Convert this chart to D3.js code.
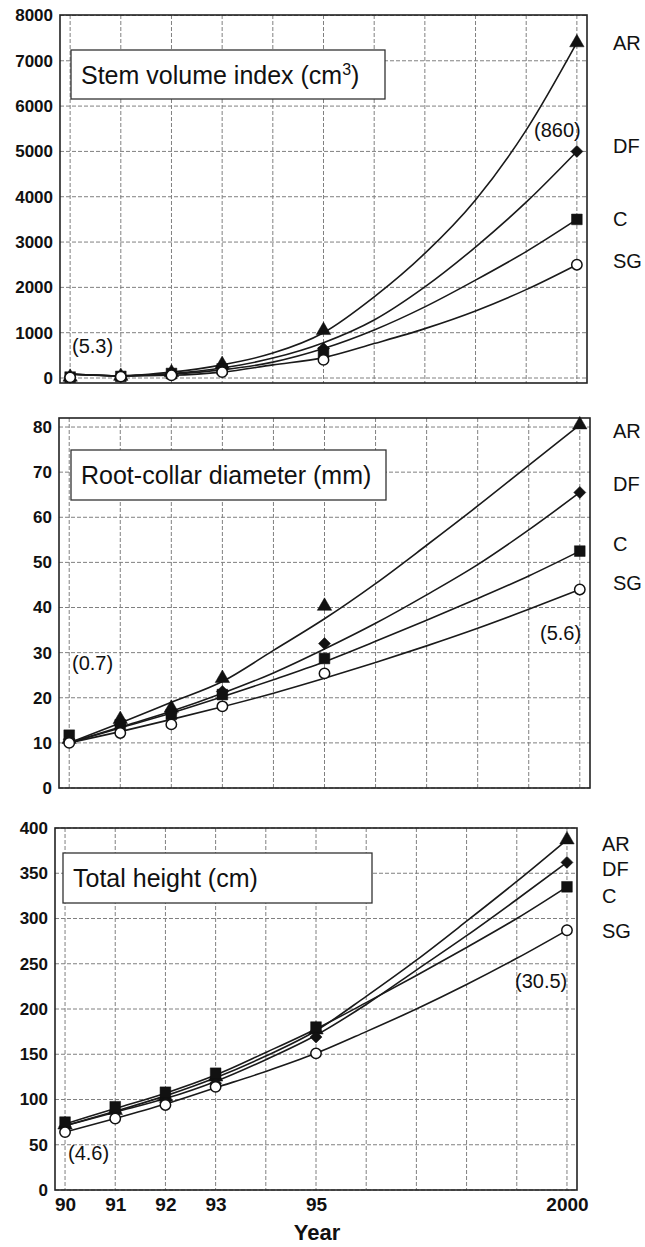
<!DOCTYPE html>
<html>
<head>
<meta charset="utf-8">
<script src="https://cdn.jsdelivr.net/npm/d3@7"></script>
<style>
  body { margin: 0; background: #fff; }
  text { font-family: "Liberation Sans", Arial, sans-serif; fill: #111; }
</style>
</head>
<body>
<script>
// years on x axis (2000 stored as 100 so the scale stays linear)
var years = [90, 91, 92, 93, 95, 100];
var fitYears = [90, 91, 92, 93, 94, 95, 96, 97, 98, 99, 100];
var gridYears = fitYears;
var xTickValues = [90, 91, 92, 93, 95, 100];
var xTickLabels = ["90", "91", "92", "93", "95", "2000"];
var seriesNames = ["AR", "DF", "C", "SG"];

// stem volume index (cm3): measured points and fitted curve, per series AR, DF, C, SG
var volumeTicks = [0, 1000, 2000, 3000, 4000, 5000, 6000, 7000, 8000];
var volumeObs = [
    [20, 40, 120, 300, 1050, 7400],
    [20, 35, 100, 220, 650, 5000],
    [20, 35, 100, 200, 560, 3500],
    [15, 30, 60, 130, 400, 2500]
];
var volumeFit = [
    [90, 50, 130, 290, 550, 1000, 1790, 2750, 3930, 5470, 7400],
    [90, 50, 100, 220, 440, 780, 1280, 2010, 2890, 3880, 5000],
    [90, 50, 90, 180, 350, 650, 1060, 1570, 2160, 2790, 3500],
    [90, 45, 60, 130, 290, 450, 760, 1090, 1480, 1950, 2500]
];

// root-collar diameter (mm)
var diameterTicks = [0, 10, 20, 30, 40, 50, 60, 70, 80];
var diameterObs = [
    [10.8, 15.2, 17.7, 24.3, 40.3, 80.5],
    [10.8, 14.0, 16.6, 21.4, 32.0, 65.5],
    [11.7, 14.0, 16.3, 20.7, 28.7, 52.5],
    [10.0, 12.2, 14.1, 18.1, 25.4, 44.0]
];
var diameterFit = [
    [10, 14.4, 19.0, 23.6, 30.5, 37.5, 45.3, 53.8, 62.5, 71.5, 80.5],
    [10, 13.5, 17.0, 21.0, 25.5, 30.8, 36.5, 42.8, 49.5, 57.2, 65.5],
    [10, 13.3, 16.6, 20.2, 24.0, 28.0, 32.5, 37.2, 42.0, 47.0, 52.5],
    [10, 12.5, 15.2, 18.0, 21.0, 24.3, 27.8, 31.5, 35.4, 39.6, 44.0]
];

// total height (cm)
var heightTicks = [0, 50, 100, 150, 200, 250, 300, 350, 400];
var heightObs = [
    [72, 88, 103, 125, 177, 387],
    [70, 86, 97, 118, 169, 362],
    [75, 92, 108, 129, 180, 335],
    [64, 79, 94, 114, 151, 287]
];
var heightFit = [
    [71, 87, 104, 124, 148, 176, 214, 254, 297, 341, 387],
    [71, 86, 101, 120, 144, 171, 205, 243, 281, 321, 362],
    [73, 90, 107, 127, 152, 178, 207, 237, 268, 300, 335],
    [64, 79, 95, 113, 131, 151, 175, 200, 227, 256, 287]
];

var panels = [
    {
        title: "Stem volume index (cm", sup: "3", titleEnd: ")",
        obs: volumeObs, fit: volumeFit, ticks: volumeTicks, yDomain: [-110, 8010],
        left: 60, right: 587, top: 15, bottom: 383,
        box: [71, 50, 314, 49],
        labelX: 613, labelY: [50, 153, 226, 268],
        notes: [{t: "(5.3)", x: 72, y: 353}, {t: "(860)", x: 534, y: 137}],
        xLabels: false
    },
    {
        title: "Root-collar diameter (mm)",
        obs: diameterObs, fit: diameterFit, ticks: diameterTicks, yDomain: [0, 82],
        left: 59, right: 590, top: 418, bottom: 788,
        box: [71, 450, 315, 50],
        labelX: 613, labelY: [438, 491, 551, 590],
        notes: [{t: "(0.7)", x: 72, y: 670}, {t: "(5.6)", x: 540, y: 640}],
        xLabels: false
    },
    {
        title: "Total height (cm)",
        obs: heightObs, fit: heightFit, ticks: heightTicks, yDomain: [0, 400],
        left: 55, right: 577, top: 828, bottom: 1190,
        box: [63, 853, 309, 50],
        labelX: 602, labelY: [851, 876, 903, 938],
        notes: [{t: "(4.6)", x: 68, y: 1160}, {t: "(30.5)", x: 515, y: 988}],
        xLabels: true
    }
];

var svg = d3.select("body")
    .append("svg")
    .attr("width", 645)
    .attr("height", 1247);

// AR triangle, DF diamond (square turned 45deg), C square, SG open circle
var symbols = [d3.symbolTriangle, d3.symbolSquare, d3.symbolSquare, d3.symbolCircle];
var symbolSizes = [90, 72, 115, 85];
var symbolTurn = [0, 45, 0, 0];

panels.forEach(function(p) {
    var x = d3.scaleLinear().domain([89.8, 100.2]).range([p.left, p.right]);
    var y = d3.scaleLinear().domain(p.yDomain).range([p.bottom, p.top]);
    var g = svg.append("g");

    // dotted grid
    g.selectAll(".vgrid")
        .data(gridYears)
        .enter()
        .append("line")
        .attr("x1", function(d) { return x(d); })
        .attr("x2", function(d) { return x(d); })
        .attr("y1", p.top)
        .attr("y2", p.bottom)
        .attr("stroke", "#808080")
        .attr("stroke-width", 1)
        .attr("stroke-dasharray", "4,2");

    g.selectAll(".hgrid")
        .data(p.ticks)
        .enter()
        .append("line")
        .attr("x1", p.left)
        .attr("x2", p.right)
        .attr("y1", function(d) { return y(d); })
        .attr("y2", function(d) { return y(d); })
        .attr("stroke", "#808080")
        .attr("stroke-width", 1)
        .attr("stroke-dasharray", "4,2");

    // y axis labels
    var yAxis = d3.axisLeft(y).tickValues(p.ticks)
        .tickFormat(d3.format("d"))
        .tickSize(0).tickPadding(7);
    g.append("g")
        .attr("transform", "translate(" + p.left + ",0)")
        .attr("font-weight", "bold")
        .call(yAxis)
        .call(function(a) { a.select(".domain").remove(); })
        .selectAll("text")
        .style("font-family", "'Liberation Sans', Arial, sans-serif")
        .style("font-weight", "bold")
        .style("font-size", "17px")
        .attr("fill", "#111");

    if (p.xLabels) {
        var xAxis = d3.axisBottom(x).tickValues(xTickValues)
            .tickFormat(function(d, i) { return xTickLabels[i]; })
            .tickSize(0).tickPadding(8);
        g.append("g")
            .attr("transform", "translate(0," + p.bottom + ")")
            .attr("font-weight", "bold")
            .call(xAxis)
            .call(function(a) { a.select(".domain").remove(); })
            .selectAll("text")
            .style("font-family", "'Liberation Sans', Arial, sans-serif")
            .style("font-weight", "bold")
            .style("font-size", "19px")
            .attr("fill", "#111");
    }

    // frame
    g.append("rect")
        .attr("x", p.left)
        .attr("y", p.top)
        .attr("width", p.right - p.left)
        .attr("height", p.bottom - p.top)
        .attr("fill", "none")
        .attr("stroke", "#222")
        .attr("stroke-width", 1.6);

    // title box
    g.append("rect")
        .attr("x", p.box[0])
        .attr("y", p.box[1])
        .attr("width", p.box[2])
        .attr("height", p.box[3])
        .attr("fill", "#fff")
        .attr("stroke", "#333")
        .attr("stroke-width", 1.3);

    var title = g.append("text")
        .attr("x", p.box[0] + 10)
        .attr("y", p.box[1] + 34)
        .style("font-size", "25px")
        .text(p.title);
    if (p.sup) {
        title.append("tspan").attr("dy", -9).style("font-size", "16px").text(p.sup);
        title.append("tspan").attr("dy", 9).text(p.titleEnd);
    }

    // fitted curves
    var line = d3.line()
        .x(function(d, i) { return x(fitYears[i]); })
        .y(function(d) { return y(d); })
        .curve(d3.curveMonotoneX);

    g.selectAll(".fit")
        .data(p.fit)
        .enter()
        .append("path")
        .attr("d", line)
        .attr("fill", "none")
        .attr("stroke", "#1a1a1a")
        .attr("stroke-width", 1.6);

    // measured points
    p.obs.forEach(function(vals, s) {
        g.selectAll(".pt" + s)
            .data(vals)
            .enter()
            .append("path")
            .attr("transform", function(d, i) {
                return "translate(" + x(years[i]) + "," + y(d) + ") rotate(" + symbolTurn[s] + ")";
            })
            .attr("d", d3.symbol().type(symbols[s]).size(symbolSizes[s]))
            .attr("fill", s === 3 ? "#fff" : "#111")
            .attr("stroke", "#111")
            .attr("stroke-width", s === 3 ? 1.5 : 0.5);
    });

    // series labels at right
    g.selectAll(".lab")
        .data(seriesNames)
        .enter()
        .append("text")
        .attr("x", p.labelX)
        .attr("y", function(d, i) { return p.labelY[i]; })
        .style("font-size", "20px")
        .text(function(d) { return d; });

    g.selectAll(".note")
        .data(p.notes)
        .enter()
        .append("text")
        .attr("x", function(d) { return d.x; })
        .attr("y", function(d) { return d.y; })
        .style("font-size", "20px")
        .text(function(d) { return d.t; });
});

svg.append("text")
    .attr("x", 317)
    .attr("y", 1240)
    .attr("text-anchor", "middle")
    .style("font-size", "22px")
    .style("font-weight", "bold")
    .text("Year");
</script>
</body>
</html>
